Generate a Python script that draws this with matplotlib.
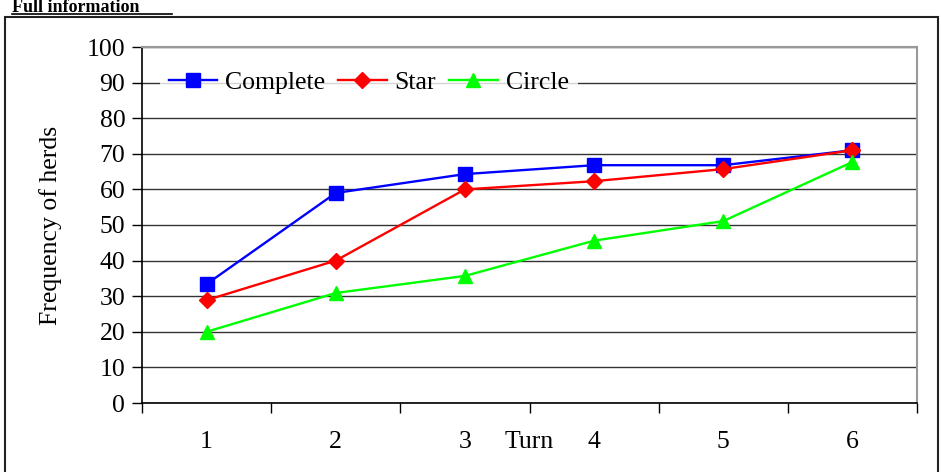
import matplotlib.pyplot as plt
from matplotlib.lines import Line2D
from matplotlib.patches import Rectangle

turns = ['1', '2', '3', '4', '5', '6']
complete = [33.4, 59.0, 64.3, 66.8, 66.8, 71.0]
star = [28.9, 40.0, 60.0, 62.3, 65.7, 71.0]
circle = [20.0, 30.9, 35.7, 45.6, 51.1, 67.7]

plt.rcParams['font.family'] = ['Liberation Serif', 'DejaVu Serif']
fs = 18.5

fig = plt.figure(figsize=(9.41, 4.72), dpi=100)
ax = fig.add_axes([142 / 941, 1 - 403 / 472, (917 - 142) / 941, (403 - 47) / 472])

x = list(range(len(turns)))
ax.plot(x, complete, color='#0000ff', marker='s', markersize=9.5, lw=1.7, label='Complete', zorder=3)
ax.plot(x, star, color='#ff0000', marker='D', markersize=8, lw=1.7, label='Star', zorder=3)
ax.plot(x, circle, color='#00ff00', marker='^', markersize=10, lw=1.7, label='Circle', zorder=3)

ax.set_xlim(-0.5, len(turns) - 0.5)
ax.set_ylim(0, 100)
ax.set_yticks(range(0, 101, 10))
ax.set_xticks([i - 0.5 for i in range(len(turns) + 1)])
ax.set_xticklabels([])
ax.tick_params(axis='x', direction='out', length=7, width=1)
ax.tick_params(axis='y', direction='out', length=7, width=1, labelsize=fs, pad=5)
for i, t in enumerate(turns):
    ax.text(i, -11, t, ha='center', va='center', fontsize=fs)
ax.text(2.5, -11, 'Turn', ha='center', va='center', fontsize=fs)
ax.grid(axis='y', color='#333333', lw=1)
ax.set_axisbelow(True)
for s in ['top', 'right']:
    ax.spines[s].set_color('#999999')
    ax.spines[s].set_linewidth(1.5)
ax.spines['left'].set_linewidth(1.2)
ax.spines['bottom'].set_linewidth(1.2)

ax.set_ylabel('Frequency of herds', fontsize=fs, labelpad=18)

leg = ax.legend(loc='center left', bbox_to_anchor=((166 - 142) / 775, 0.9), ncol=3, frameon=True,
                fontsize=fs, handlelength=1.9, handletextpad=0.3, columnspacing=0.5,
                borderpad=0.1, borderaxespad=0)
leg.get_frame().set_edgecolor('none')
leg.get_frame().set_facecolor('white')
leg.get_frame().set_boxstyle('square', pad=0.25)

# outer frame and heading
fig.patches.append(Rectangle((5 / 941, -0.01), 933 / 941, 1 - 17 / 472 + 0.01, transform=fig.transFigure,
                             fill=False, edgecolor='#222222', lw=1.5))
fig.text(12 / 941, 1 - 12 / 472, 'Full information', fontsize=13, fontweight='bold', va='baseline', ha='left')
fig.lines.append(Line2D([12 / 941, 172 / 941], [1 - 14 / 472, 1 - 14 / 472], transform=fig.transFigure,
                        color='black', lw=1.2))

fig.savefig('out.png', dpi=100)
